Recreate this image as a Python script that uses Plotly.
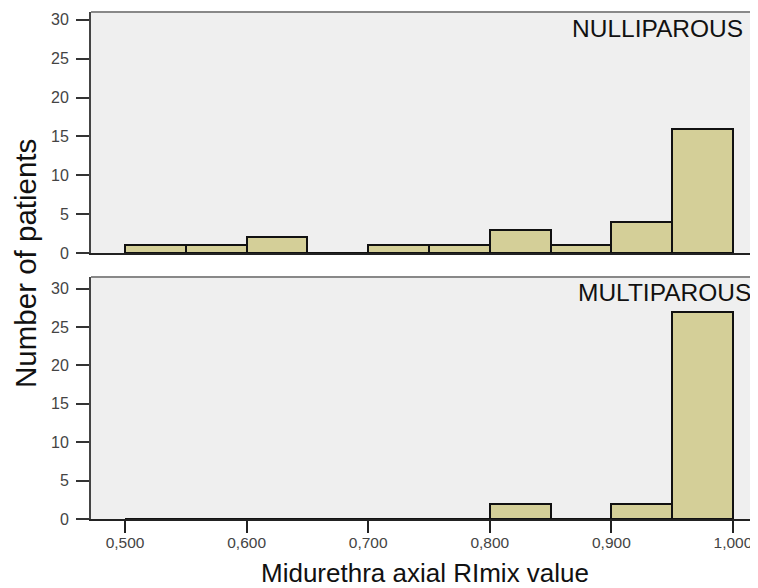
import plotly.graph_objects as go
from plotly.subplots import make_subplots

bin_starts = [0.50, 0.55, 0.60, 0.65, 0.70, 0.75, 0.80, 0.85, 0.90, 0.95]
bin_width = 0.05
nulliparous = [1, 1, 2, 0, 1, 1, 3, 1, 4, 16]
multiparous = [0, 0, 0, 0, 0, 0, 2, 0, 2, 27]
x_ticks = [0.5, 0.6, 0.7, 0.8, 0.9, 1.0]
x_tick_labels = ["0,500", "0,600", "0,700", "0,800", "0,900", "1,000"]
y_ticks = [0, 5, 10, 15, 20, 25, 30]

centers = [s + bin_width / 2 for s in bin_starts]

fig = make_subplots(rows=2, cols=1, shared_xaxes=False, vertical_spacing=0.0474)

bar_style = dict(marker=dict(color="#d4cf98", line=dict(color="#111111", width=2)),
                 width=bin_width, showlegend=False, hoverinfo="x+y")
fig.add_trace(go.Bar(x=centers, y=nulliparous, **bar_style), row=1, col=1)
fig.add_trace(go.Bar(x=centers, y=multiparous, **bar_style), row=2, col=1)

xr = [0.472, 1.0206]
common_x = dict(range=xr, showgrid=False, zeroline=False, showline=True,
                linecolor="#222222", linewidth=2)
fig.update_xaxes(**common_x, showticklabels=False, ticks="", row=1, col=1)
fig.update_xaxes(**common_x, tickvals=x_ticks, ticktext=x_tick_labels, ticks="outside",
                 ticklen=12, tickwidth=2, tickcolor="#222222", ticklabelstandoff=-4,
                 ticklabeloverflow="allow",
                 tickfont=dict(family="Arial", size=15.5, color="#444444"), row=2, col=1)

common_y = dict(tickvals=y_ticks, showgrid=False, zeroline=False, showline=True,
                linecolor="#444444", linewidth=2, ticks="outside", ticklen=13,
                tickwidth=2, tickcolor="#333333", ticklabelstandoff=4,
                tickfont=dict(family="Arial", size=16, color="#444444"))
fig.update_yaxes(**common_y, range=[0, 31.0], row=1, col=1)
fig.update_yaxes(**common_y, range=[0, 31.5], row=2, col=1)

fig.update_layout(
    width=750, height=580,
    margin=dict(l=83, r=0, t=4, b=69),
    paper_bgcolor="white", plot_bgcolor="#efefef",
    bargap=0,
    font=dict(family="Arial", color="#111111"),
    shapes=[
        dict(type="line", xref="x domain", yref="y domain", x0=0, x1=1, y0=1, y1=1,
             line=dict(color="#888888", width=2)),
        dict(type="line", xref="x2 domain", yref="y2 domain", x0=0, x1=1, y0=1, y1=1,
             line=dict(color="#888888", width=2)),
    ],
    annotations=[
        dict(text="NULLIPAROUS", xref="paper", yref="paper", x=0.9805, y=0.9665,
             xanchor="right", yanchor="middle", showarrow=False,
             font=dict(family="Arial", size=24.5, color="#111111")),
        dict(text="MULTIPAROUS", xref="paper", yref="paper", x=0.9925, y=0.4477,
             xanchor="right", yanchor="middle", showarrow=False,
             font=dict(family="Arial", size=24.5, color="#111111")),
        dict(text="Number of patients", xref="paper", yref="paper", x=-0.0975, y=0.505,
             xanchor="center", yanchor="middle", textangle=-90, showarrow=False,
             font=dict(family="Arial", size=29.5, color="#111111")),
        dict(text="Midurethra axial RImix value", xref="paper", yref="paper",
             x=0.5007, y=-0.106, xanchor="center", yanchor="middle", showarrow=False,
             font=dict(family="Arial", size=26, color="#111111")),
    ],
)
fig.update_xaxes(domain=[0, 1])
fig.update_yaxes(domain=[0.5247, 1.0], row=1, col=1)
fig.update_yaxes(domain=[0.0, 0.4773], row=2, col=1)

fig.write_html("out.html")
